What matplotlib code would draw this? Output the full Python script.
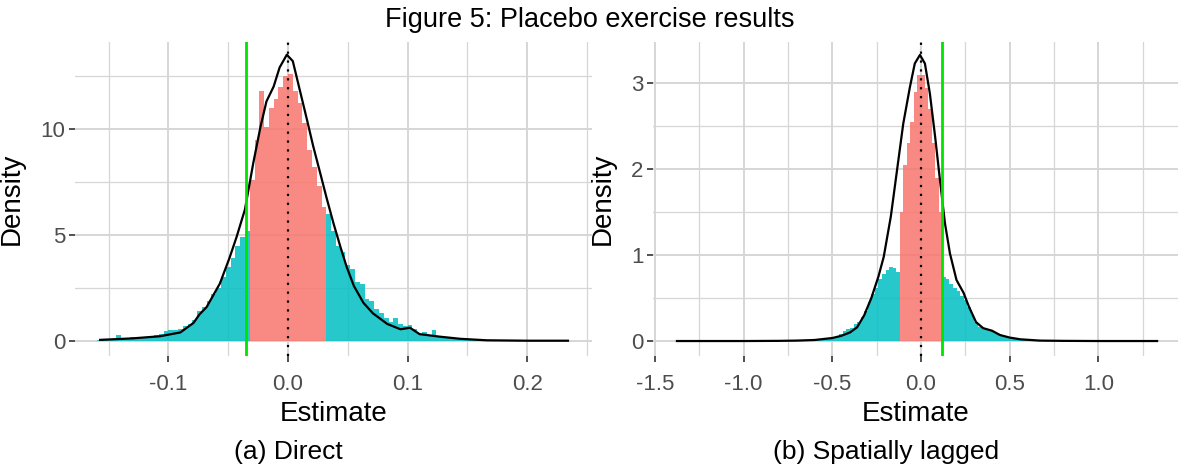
import matplotlib
matplotlib.use("Agg")
import matplotlib.pyplot as plt
import numpy as np

plt.rcParams['font.family'] = ['Liberation Sans', 'DejaVu Sans']

# ---- panel (a) direct ----
a_estimate = -0.035
a_binw = 0.004
a_red_start = -0.030
a_red = [7.6, 9.5, 11.8, 10.1, 11.0, 11.4, 12.0, 12.5,
         12.6, 11.8, 11.2, 10.3, 9.0, 8.2, 7.3, 6.3]
a_cyan_left_start = -0.158
a_cyan_left = [0.03, 0.04, 0.06, 0.05, 0.3, 0.08, 0.1, 0.2, 0.12, 0.15, 0.2, 0.25,
               0.28, 0.35, 0.45, 0.5, 0.5, 0.55, 0.7, 0.8, 1.0, 1.4, 1.6, 1.9,
               2.2, 2.5, 3.0, 3.5, 3.9, 4.5, 4.9, 5.2]
a_cyan_right_start = 0.034
a_cyan_right = [6.0, 5.2, 4.5, 4.2, 3.6, 3.4, 2.8, 2.7, 2.0, 1.9, 1.5, 1.3, 1.1,
                0.9, 1.1, 0.8, 0.7, 0.75, 0.55, 0.35, 0.4, 0.3, 0.5, 0.25, 0.2,
                0.15, 0.18, 0.1, 0.12, 0.1, 0.08, 0.06, 0.05, 0.04, 0.03, 0.03,
                0.02, 0.02, 0.015, 0.01, 0.02, 0.01, 0.01, 0.005, 0.01, 0.005,
                0.005, 0.0, 0.005, 0.0, 0.005]
a_dens_x = [-0.157, -0.13, -0.107, -0.09, -0.079, -0.074, -0.068, -0.057, -0.049,
            -0.043, -0.036, -0.029, -0.023, -0.018, -0.012, -0.007, -0.001, 0.004,
            0.01, 0.016, 0.021, 0.027, 0.032, 0.038, 0.044, 0.049, 0.055, 0.063,
            0.071, 0.083, 0.094, 0.102, 0.11, 0.127, 0.144, 0.166, 0.2, 0.234]
a_dens_y = [0.05, 0.12, 0.22, 0.4, 0.85, 1.25, 1.6, 2.7, 3.9, 4.9, 6.2, 8.4, 10.1,
            11.3, 12.0, 12.9, 13.5, 13.2, 11.8, 10.4, 9.2, 7.9, 6.8, 5.55, 4.4, 3.5,
            2.6, 1.8, 1.3, 0.8, 0.55, 0.62, 0.32, 0.2, 0.1, 0.03, 0.01, 0.01]

# ---- panel (b) spatially lagged ----
b_estimate = 0.118
b_binw = 0.02
b_red_start = -0.11
b_red = [1.5, 2.05, 2.3, 2.55, 2.9, 3.1, 3.1, 2.95, 2.7, 2.3, 1.9, 1.5]
b_cyan_left_start = -0.59
b_cyan_left = [0.01, 0.01, 0.02, 0.02, 0.03, 0.04, 0.06, 0.08, 0.12, 0.14, 0.15, 0.2,
               0.22, 0.28, 0.35, 0.45, 0.55, 0.62, 0.72, 0.78, 0.83, 0.86, 0.85, 0.8]
b_cyan_right_start = 0.13
b_cyan_right = [0.75, 0.72, 0.66, 0.62, 0.58, 0.52, 0.48, 0.4, 0.3, 0.22, 0.16, 0.15,
                0.13, 0.12, 0.1, 0.08, 0.06, 0.05, 0.04, 0.03, 0.02, 0.02, 0.015,
                0.01, 0.01, 0.008, 0.006, 0.005, 0.004, 0.003, 0.003, 0.002, 0.002,
                0.001]
b_dens_x = [-1.375, -1.0, -0.8, -0.7, -0.6, -0.5, -0.45, -0.4, -0.36, -0.32, -0.28,
            -0.24, -0.21, -0.17, -0.135, -0.10, -0.063, -0.035, -0.006, 0.022, 0.05,
            0.08, 0.107, 0.135, 0.163, 0.2, 0.24, 0.27, 0.31, 0.35, 0.4, 0.445, 0.5,
            0.56, 0.67, 0.8, 1.0, 1.33]
b_dens_y = [0, 0, 0.002, 0.005, 0.012, 0.035, 0.06, 0.1, 0.16, 0.3, 0.5, 0.75, 0.98,
            1.45, 1.99, 2.53, 2.95, 3.23, 3.33, 3.23, 2.88, 2.37, 1.87, 1.37, 1.02,
            0.71, 0.56, 0.4, 0.22, 0.15, 0.12, 0.07, 0.04, 0.02, 0.005, 0.002, 0, 0]

RED = '#F8766D'
CYAN = '#00BFC4'
GREEN = '#00E400'
GRID = '#D6D6D6'
TXT = '#4D4D4D'


def centers(start, n, w):
    return np.round(start + np.arange(n) * w, 4)


def panel(ax, binw, red_start, red, cl_start, cl, cr_start, cr, dx, dy, est,
          xlim, ylim, xmaj, xmin, ymaj, ymin, xlabels):
    ax.bar(centers(red_start, len(red), binw), red, width=binw, color=RED,
           alpha=0.85, linewidth=0, zorder=2)
    ax.bar(centers(cl_start, len(cl), binw), cl, width=binw, color=CYAN,
           alpha=0.85, linewidth=0, zorder=2)
    ax.bar(centers(cr_start, len(cr), binw), cr, width=binw, color=CYAN,
           alpha=0.85, linewidth=0, zorder=2)
    ax.plot(dx, dy, color='black', lw=1.6, zorder=3, solid_joinstyle='round')
    ax.axvline(0, color='black', lw=1.6, ls=(0, (1, 3)), zorder=4)
    ax.axvline(est, color=GREEN, lw=2.0, zorder=4)

    ax.set_xlim(*xlim)
    ax.set_ylim(*ylim)
    ax.set_xticks(xmaj)
    ax.set_xticklabels(xlabels)
    ax.set_xticks(xmin, minor=True)
    ax.set_yticks(ymaj)
    ax.set_yticks(ymin, minor=True)
    ax.grid(which='major', color=GRID, lw=1.4, zorder=0)
    ax.grid(which='minor', color=GRID, lw=0.9, zorder=0)
    ax.set_axisbelow(True)
    for s in ax.spines.values():
        s.set_visible(False)
    ax.tick_params(which='major', length=4, width=1.2, color='#333333',
                   labelsize=16, labelcolor=TXT)
    ax.tick_params(axis='x', which='major', pad=9)
    ax.tick_params(axis='y', which='major', pad=3)
    ax.tick_params(which='minor', length=0)
    ax.set_xlabel('Estimate', fontsize=20, labelpad=4)
    ax.set_ylabel('Density', fontsize=20, labelpad=11)


fig = plt.figure(figsize=(11.8, 4.7), dpi=100)

ax1 = fig.add_axes([0.0636, 0.2426, 0.438, 0.668])
panel(ax1, a_binw, a_red_start, a_red, a_cyan_left_start, a_cyan_left,
      a_cyan_right_start, a_cyan_right, a_dens_x, a_dens_y, a_estimate,
      (-0.178, 0.254), (-0.71, 14.1),
      [-0.1, 0.0, 0.1, 0.2], [-0.15, -0.05, 0.05, 0.15, 0.25],
      [0, 5, 10], [2.5, 7.5, 12.5], ['-0.1', '0.0', '0.1', '0.2'])

ax2 = fig.add_axes([0.5534, 0.2426, 0.4449, 0.668])
panel(ax2, b_binw, b_red_start, b_red, b_cyan_left_start, b_cyan_left,
      b_cyan_right_start, b_cyan_right, b_dens_x, b_dens_y, b_estimate,
      (-1.51, 1.448), (-0.174, 3.48),
      [-1.5, -1.0, -0.5, 0.0, 0.5, 1.0], [-1.25, -0.75, -0.25, 0.25, 0.75, 1.25],
      [0, 1, 2, 3], [0.5, 1.5, 2.5], ['-1.5', '-1.0', '-0.5', '0.0', '0.5', '1.0'])

fig.text(0.5, 0.957, 'Figure 5: Placebo exercise results', ha='center',
         va='center', fontsize=19.5)
fig.text(0.244, 0.038, '(a) Direct', ha='center', va='center', fontsize=19)
fig.text(0.751, 0.038, '(b) Spatially lagged', ha='center', va='center',
         fontsize=19)

fig.savefig('out.png', dpi=100)
